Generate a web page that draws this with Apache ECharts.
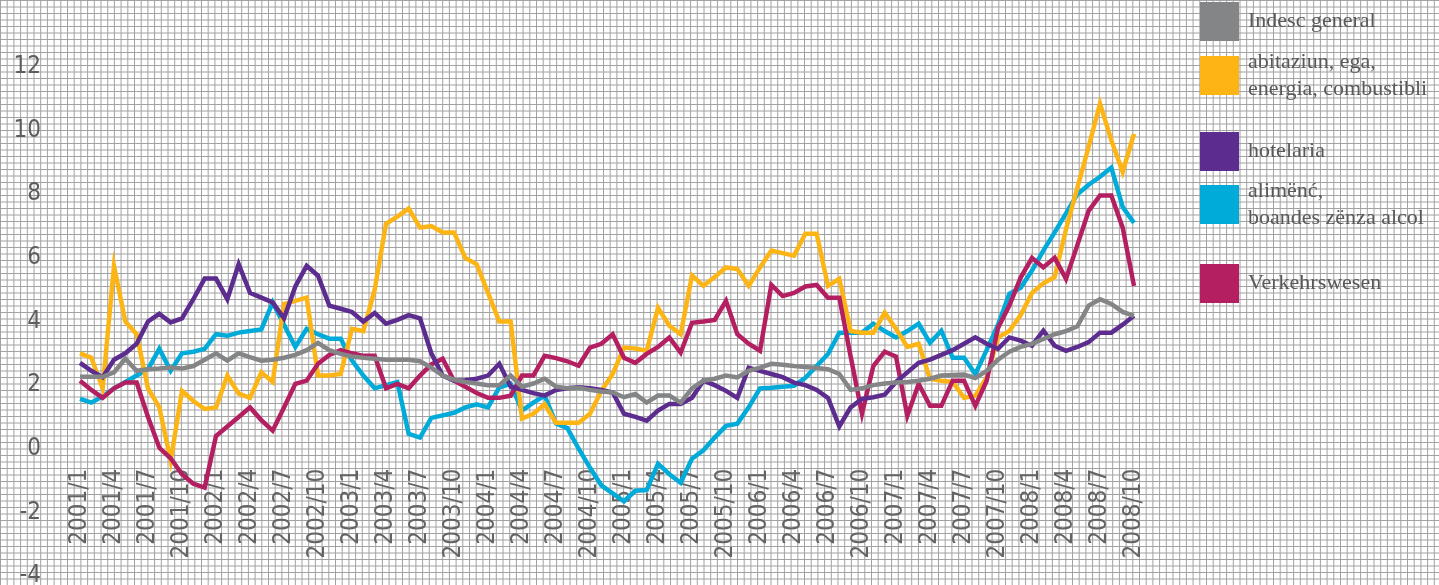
<!DOCTYPE html>
<html>
<head>
<meta charset="utf-8">
<title>Indesc di prizi</title>
<script src="https://cdn.jsdelivr.net/npm/echarts@6/dist/echarts.min.js"></script>
<style>
  html, body { margin: 0; padding: 0; background: #fff; }
  #mychart { width: 1439px; height: 585px; }
</style>
</head>
<body>
<div id="mychart"></div>
<script>
// mesc (2001/1 - 2008/10)
var months = [
  '2001/1','2001/2','2001/3','2001/4','2001/5','2001/6','2001/7','2001/8','2001/9','2001/10','2001/11','2001/12',
  '2002/1','2002/2','2002/3','2002/4','2002/5','2002/6','2002/7','2002/8','2002/9','2002/10','2002/11','2002/12',
  '2003/1','2003/2','2003/3','2003/4','2003/5','2003/6','2003/7','2003/8','2003/9','2003/10','2003/11','2003/12',
  '2004/1','2004/2','2004/3','2004/4','2004/5','2004/6','2004/7','2004/8','2004/9','2004/10','2004/11','2004/12',
  '2005/1','2005/2','2005/3','2005/4','2005/5','2005/6','2005/7','2005/8','2005/9','2005/10','2005/11','2005/12',
  '2006/1','2006/2','2006/3','2006/4','2006/5','2006/6','2006/7','2006/8','2006/9','2006/10','2006/11','2006/12',
  '2007/1','2007/2','2007/3','2007/4','2007/5','2007/6','2007/7','2007/8','2007/9','2007/10','2007/11','2007/12',
  '2008/1','2008/2','2008/3','2008/4','2008/5','2008/6','2008/7','2008/8','2008/9','2008/10'
]

var yTicks = [-4, -2, 0, 2, 4, 6, 8, 10, 12]

// Indesc general
var general = [
  2.26,2.26,2.26,2.4,2.83,2.45,2.5,2.52,2.55,2.52,
  2.6,2.8,3.0,2.77,3.0,2.88,2.77,2.8,2.86,2.95,
  3.1,3.33,3.1,2.98,2.9,2.86,2.83,2.8,2.8,2.8,
  2.75,2.55,2.3,2.17,2.1,2.05,2.0,2.0,2.3,1.95,
  2.05,2.2,1.95,1.9,1.92,1.85,1.8,1.77,1.62,1.72,
  1.45,1.67,1.67,1.45,1.9,2.14,2.2,2.3,2.24,2.45,
  2.55,2.67,2.64,2.6,2.57,2.54,2.5,2.35,1.85,1.9,
  2.0,2.05,2.08,2.1,2.14,2.2,2.3,2.32,2.33,2.22,
  2.45,2.8,3.05,3.2,3.3,3.45,3.6,3.7,3.85,4.5,
  4.7,4.55,4.3,4.18
]

// abitaziun, ega, energia, combustibli
var abitaziun = [
  3.0,2.86,1.9,5.75,4.0,3.6,1.9,1.3,-0.38,1.82,
  1.5,1.25,1.3,2.3,1.73,1.6,2.4,2.1,4.55,4.65,
  4.75,2.3,2.3,2.35,3.77,3.7,5.0,7.07,7.3,7.55,
  6.95,7.0,6.8,6.8,6.0,5.8,4.9,4.0,4.0,0.95,
  1.1,1.4,0.82,0.82,0.82,1.1,1.82,2.35,3.18,3.15,
  3.08,4.43,3.87,3.6,5.45,5.12,5.4,5.7,5.65,5.12,
  5.7,6.23,6.15,6.07,6.76,6.76,5.12,5.34,3.7,3.65,
  3.65,4.28,3.77,3.2,3.3,2.2,2.14,2.1,1.6,1.67,
  2.24,3.5,3.7,4.2,4.9,5.2,5.4,6.9,8.2,9.5,
  10.85,9.7,8.7,9.9
]

// hotelaria
var hotelaria = [
  2.7,2.45,2.25,2.8,3.0,3.3,4.0,4.24,3.97,4.1,
  4.7,5.35,5.35,4.7,5.8,4.9,4.75,4.6,4.1,5.1,
  5.75,5.44,4.5,4.4,4.3,4.0,4.27,3.93,4.05,4.2,
  4.1,3.0,2.3,2.14,2.15,2.2,2.3,2.67,1.95,1.85,
  1.75,1.67,1.85,1.9,1.93,1.9,1.85,1.77,1.1,1.0,
  0.88,1.2,1.41,1.41,1.6,2.14,2.0,1.82,1.6,2.55,
  2.45,2.35,2.25,2.08,2.0,1.85,1.6,0.7,1.3,1.57,
  1.62,1.7,2.1,2.4,2.7,2.8,2.95,3.1,3.3,3.5,
  3.3,3.14,3.5,3.4,3.24,3.71,3.24,3.08,3.2,3.35,
  3.65,3.65,3.9,4.18
]

// alimënć, boandes zënza alcol
var alimenc = [
  1.57,1.45,1.65,1.9,2.1,2.3,2.5,3.14,2.45,3.0,
  3.05,3.14,3.6,3.55,3.65,3.7,3.75,4.6,3.9,3.2,
  3.77,3.6,3.46,3.46,2.77,2.3,1.9,2.0,2.1,0.47,
  0.35,0.97,1.05,1.13,1.3,1.4,1.3,1.93,2.04,1.2,
  1.45,1.67,0.79,0.65,0.0,-0.6,-1.15,-1.4,-1.65,-1.32,
  -1.3,-0.47,-0.8,-1.07,-0.31,-0.05,0.35,0.72,0.79,1.3,
  1.9,1.92,1.95,1.98,2.23,2.6,2.98,3.65,3.65,3.65,
  3.93,3.7,3.5,3.7,3.93,3.33,3.71,2.86,2.86,2.35,
  3.1,3.9,4.87,5.06,5.6,6.23,6.8,7.4,8.0,8.3,
  8.55,8.84,7.6,7.1
]

// Verkehrswesen
var verkehr = [
  2.14,1.85,1.6,1.9,2.08,2.08,1.0,0.03,-0.3,-0.8,
  -1.1,-1.22,0.4,0.7,1.0,1.3,0.9,0.57,1.3,2.04,
  2.14,2.67,2.95,3.1,3.0,2.92,2.92,1.9,2.04,1.9,
  2.3,2.65,2.83,2.14,1.95,1.75,1.6,1.6,1.67,2.3,
  2.3,2.92,2.85,2.75,2.61,3.18,3.3,3.6,2.86,2.7,
  2.98,3.2,3.5,3.02,3.96,4.0,4.05,4.65,3.6,3.3,
  3.08,5.15,4.8,4.9,5.1,5.15,4.75,4.75,2.9,1.1,
  2.6,3.05,2.9,1.04,2.04,1.35,1.35,2.14,2.14,1.35,
  2.14,3.8,4.5,5.38,6.0,5.7,6.0,5.34,6.4,7.48,
  7.96,7.96,6.95,5.12
]

var names = ['Indesc general', 'abitaziun, ega,\nenergia, combustibli', 'hotelaria', 'alimënć,\nboandes zënza alcol', 'Verkehrswesen']
var colors = ['#848587', '#fdb515', '#5c2d8e', '#00abd9', '#b41f62']

// fon a cuadretg
function gridPattern() {
  var c = document.createElement('canvas')
  c.width = 67
  c.height = 65
  var ctx = c.getContext('2d')
  ctx.fillStyle = '#ffffff'
  ctx.fillRect(0, 0, c.width, c.height)
  ctx.strokeStyle = '#a2a2a2'
  ctx.lineWidth = 1
  for (var k = 0; k < 10; k++) {
    var x = k * 6.7 + 0.5
    ctx.beginPath(); ctx.moveTo(x, 0); ctx.lineTo(x, c.height); ctx.stroke()
    var y = k * 6.5 + 0.5
    ctx.beginPath(); ctx.moveTo(0, y); ctx.lineTo(c.width, y); ctx.stroke()
  }
  return c
}

function legendItem(name, top, twoLines) {
  return {
    data: [name],
    orient: 'vertical',
    left: 1200,
    top: top,
    padding: 0,
    icon: 'rect',
    itemWidth: 39,
    itemHeight: 39,
    selectedMode: false,
    textStyle: {
      fontFamily: "'Liberation Serif', 'DejaVu Serif', serif",
      fontSize: 22,
      color: '#58595b',
      lineHeight: 27,
      padding: twoLines ? [27, 0, 0, 4] : [0, 0, 0, 4]
    }
  }
}

var labelFont = "'Liberation Sans Narrow', 'DejaVu Sans Condensed', sans-serif"

// grid: top 67, height 509, so zero sits 127 px above the bottom edge
var gridTop = 67
var gridBottom = 9
var plotH = 585 - gridTop - gridBottom
var zeroShift = plotH * (0 - yTicks[0]) / (yTicks[yTicks.length - 1] - yTicks[0])

var myChart = echarts.init(document.getElementById('mychart'))

var option = {
  animation: false,
  backgroundColor: { image: gridPattern(), repeat: 'repeat' },
  legend: [
    legendItem(names[0], 2, false),
    legendItem(names[1], 35, true),
    legendItem(names[2], 132, false),
    legendItem(names[3], 164, true),
    legendItem(names[4], 264, false)
  ],
  grid: { left: 80, right: 305, top: gridTop, bottom: gridBottom, containLabel: false, outerBoundsMode: 'none' },
  xAxis: {
    type: 'category',
    data: months,
    boundaryGap: false,
    position: 'bottom',
    offset: -zeroShift,
    axisLine: { show: false, onZero: false },
    axisTick: { show: false },
    splitLine: { show: false },
    axisLabel: {
      interval: 2,
      rotate: 90,
      margin: 20,
      fontFamily: labelFont,
      fontSize: 24,
      color: '#646464'
    }
  },
  yAxis: {
    type: 'value',
    min: yTicks[0],
    max: yTicks[yTicks.length - 1],
    interval: 2,
    axisLine: { show: false },
    axisTick: { show: false },
    splitLine: { show: false },
    axisLabel: {
      margin: 39,
      fontFamily: labelFont,
      fontSize: 24,
      color: '#5e5e5e'
    }
  },
  series: [
    { name: names[3], type: 'line', data: alimenc, color: colors[3] },
    { name: names[1], type: 'line', data: abitaziun, color: colors[1] },
    { name: names[4], type: 'line', data: verkehr, color: colors[4] },
    { name: names[2], type: 'line', data: hotelaria, color: colors[2] },
    { name: names[0], type: 'line', data: general, color: colors[0] }
  ].map(function (s) {
    s.showSymbol = false
    s.symbol = 'none'
    s.lineStyle = { width: 4.5, color: s.color, join: 'miter' }
    s.itemStyle = { color: s.color }
    return s
  })
}

myChart.setOption(option)
</script>
</body>
</html>
